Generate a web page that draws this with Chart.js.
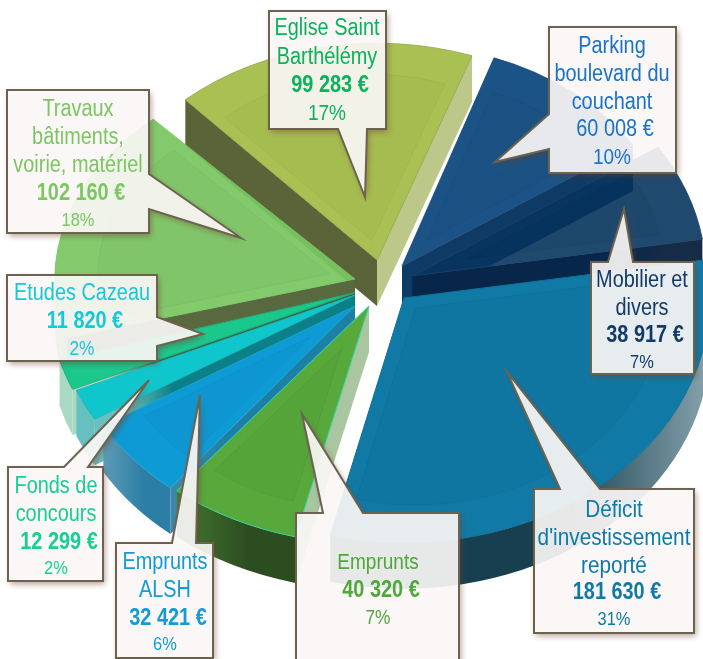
<!DOCTYPE html>
<html>
<head>
<meta charset="utf-8">
<style>
html, body { margin: 0; padding: 0; background: #fff; }
#wrap { width: 703px; height: 659px; overflow: hidden; }
</style>
<script src="https://cdn.jsdelivr.net/npm/chart.js@4"></script>
</head>
<body>
<div id="wrap"><canvas id="chart" width="703" height="659"></canvas></div>
<script>
const categories = [
    "Déficit\nd'investissement\nreporté", "Emprunts", "Emprunts\nALSH", "Fonds de\nconcours",
    "Etudes Cazeau", "Travaux\nbâtiments,\nvoirie, matériel", "Eglise Saint\nBarthélémy",
    "Parking\nboulevard du\ncouchant", "Mobilier et\ndivers"
];
const values = [181630, 40320, 32421, 12299, 11820, 102160, 99283, 60008, 38917];
const percents = [31, 7, 6, 2, 2, 18, 17, 10, 7];

// where each exploded slice sits on the page and how big it is
const DEPTH = 46, BASE_RADIUS = 300;
const apexX = [404, 369, 355, 355, 354, 355, 377, 402, 412];
const apexY = [298, 306, 306, 295, 293, 279, 260, 266, 276];
const radii = [306, 305, 293, 303, 306, 300, 285, 276, 294];
const tilts = [0.8, 0.78, 0.8, 0.8, 0.8, 0.72, 0.76, 0.8, 0.8];

const faceColors = ["#1079a6", "#58a83c", "#0e9ad4", "#0fc6cc", "#1bc88c", "rgba(122,198,98,0.93)", "#a9c152", "#1b5386", "rgba(7,53,95,0.9)"];
const edgeColors = ["#0f7396", "#2fd6a0", "#1fa6c8", "#1fb8bc", "#2aa878", "#78c460", "#8fa548", "#1a4a78", "#1a4268"];
const labelColors = ["#0e7aa8", "#4ea83a", "#129bd8", "#17cf94", "#16c8d8", "#7cc664", "#0bb25c", "#1a72c8", "#133a68"];
// side walls: cut at the start angle, cut at the end angle (outer, inner colour), outer rim stops
const startWalls = [null, ["#a9c6a0", "#a9c6a0"], ["#3d86a8", "#1e7fa6"], ["#66c0bf", "#0b8088"], ["#a9d8c3", "#2f6b4c"], ["#59693f", "#59693f"], ["#5b6339", "#5b6339"], null, null];
const endWalls = [null, null, null, null, null, null, ["#bcc78a", "#bcc78a"], ["#0e3a66", "#0e3a66"], ["#162c46", "#08264a"]];
const rimStops = [
    ["#173f50", "#173f50", "#87a3ad"], ["#447a30", "#2b4d1f", "#2b4d1f"], ["#5d9bb5", "#2d7ea6", "#2d7ea6"],
    ["#66c0bf", "#66c0bf", "#66c0bf"], ["#a9d8c3", "#a9d8c3", "#a9d8c3"], ["#7bb463", "#7bb463", "#7bb463"],
    ["#5b6339", "#5b6339", "#5b6339"], ["#0e3a66", "#0e3a66", "#0e3a66"], ["#14304f", "#14304f", "#14304f"]
];

const callouts = [
    { box: [534, 489, 160, 144], side: "top", tail: [[560, 489], [507, 372], [600, 489]], cx: 614, ys: [510, 538, 566, 593, 620], name: 24, amount: 23, pct: 19, bold: true },
    { box: [296, 513, 163, 170], side: "top", tail: [[323, 513], [302, 414], [363, 513]], cx: 378, ys: [563, 591, 618], name: 22, amount: 23, pct: 20, bold: true },
    { box: [116, 543, 97, 115], side: "top", tail: [[172, 543], [200, 395], [196, 543]], cx: 165, ys: [563, 591, 619, 645], name: 23, amount: 23, pct: 19, bold: true },
    { box: [8, 467, 95, 114], side: "top", tail: [[64, 467], [149, 380], [88, 467]], cx: 56, ys: [487, 515, 543, 569], name: 23, amount: 23, pct: 19, bold: true },
    { box: [7, 275, 150, 86], side: "right", tail: [[157, 317], [203, 334], [157, 346]], cx: 82, ys: [294, 322, 349], name: 23, amount: 23, pct: 20, bold: true },
    { box: [7, 90, 142, 143], side: "right", tail: [[149, 174], [241, 238], [149, 209]], cx: 78, ys: [110, 138, 166, 194, 221], name: 23, amount: 23, pct: 19, bold: true },
    { box: [269, 11, 117, 118], side: "bottom", tail: [[367, 129], [365, 197], [338, 129]], cx: 327, ys: [29, 58, 86, 114], name: 23, amount: 23, pct: 22, bold: true },
    { box: [549, 27, 127, 146], side: "left", tail: [[549, 149], [495, 162], [549, 114]], cx: 612, ys: [47, 75, 103, 130, 158], name: 23, amount: 23, pct: 22, bold: false },
    { box: [591, 262, 103, 112], side: "top", tail: [[608, 262], [624, 209], [633, 262]], cx: 642, ys: [281, 309, 336, 363], name: 23, amount: 23, pct: 19, bold: true }
];

const NARROW = 0.865;

function formatEuro(v) {
    return String(v).replace(/\B(?=(\d{3})+$)/g, " ") + " €";
}

function drawWallQuad(ctx, i, angle, colors) {
    const r = radii[i];
    const x = apexX[i] + Math.cos(angle) * r;
    const y = apexY[i] + Math.sin(angle) * r * tilts[i];
    const g = ctx.createLinearGradient(x, 0, apexX[i], 0);
    g.addColorStop(0, colors[0]);
    g.addColorStop(0.12, colors[0]);
    g.addColorStop(0.3, colors[1]);
    g.addColorStop(1, colors[1]);
    ctx.fillStyle = g;
    ctx.beginPath();
    ctx.moveTo(apexX[i], apexY[i]);
    ctx.lineTo(x, y);
    ctx.lineTo(x, y + DEPTH);
    ctx.lineTo(apexX[i], apexY[i] + DEPTH);
    ctx.closePath();
    ctx.fill();
}

function drawRim(ctx, i, start, end) {
    const TAU = Math.PI * 2;
    const s = ((start % TAU) + TAU) % TAU;
    const e = s + (end - start);
    [[0, Math.PI], [TAU, TAU + Math.PI]].forEach(function(win) {
        const lo = Math.max(s, win[0]);
        const hi = Math.min(e, win[1]);
        if (hi <= lo) return;
        const r = radii[i];
        const ry = r * tilts[i];
        const x1 = apexX[i] + Math.cos(lo) * r;
        const x2 = apexX[i] + Math.cos(hi) * r;
        const g = ctx.createLinearGradient(Math.min(x1, x2), 0, Math.max(x1, x2), 0);
        g.addColorStop(0, rimStops[i][0]);
        g.addColorStop(0.6, rimStops[i][1]);
        g.addColorStop(1, rimStops[i][2]);
        ctx.fillStyle = g;
        ctx.beginPath();
        ctx.ellipse(apexX[i], apexY[i], r, ry, 0, lo, hi);
        ctx.ellipse(apexX[i], apexY[i] + DEPTH, r, ry, 0, hi, lo, true);
        ctx.closePath();
        ctx.fill();
    });
}

function drawFace(ctx, arc, i) {
    const s = radii[i] / BASE_RADIUS;
    ctx.save();
    ctx.translate(apexX[i], apexY[i]);
    ctx.scale(s, s * tilts[i]);
    ctx.translate(-arc.x, -arc.y);
    arc.draw(ctx);
    // inner bevel of the slice
    const half = (arc.endAngle - arc.startAngle) / 2;
    if (half > 0.15) {
        const mid = arc.startAngle + half;
        const d = Math.min(14 / Math.sin(half), 60);
        const cx = arc.x + Math.cos(mid) * d;
        const cy = arc.y + Math.sin(mid) * d;
        ctx.fillStyle = "rgba(0,0,0,0.025)";
        ctx.strokeStyle = "rgba(0,0,0,0.05)";
        ctx.lineWidth = 1;
        ctx.beginPath();
        ctx.moveTo(cx, cy);
        ctx.arc(cx, cy, arc.outerRadius - 42 - d, arc.startAngle, arc.endAngle);
        ctx.closePath();
        ctx.fill();
        ctx.stroke();
    }
    ctx.restore();
}

function calloutPath(ctx, c) {
    const x = c.box[0], y = c.box[1], w = c.box[2], h = c.box[3];
    const corners = [[x, y], [x + w, y], [x + w, y + h], [x, y + h]];
    const after = { top: 0, right: 1, bottom: 2, left: 3 }[c.side];
    ctx.moveTo(corners[0][0], corners[0][1]);
    for (let i = 0; i < 4; i++) {
        if (i > 0) ctx.lineTo(corners[i][0], corners[i][1]);
        if (i === after) c.tail.forEach(function(p) { ctx.lineTo(p[0], p[1]); });
    }
    ctx.closePath();
}

function drawLine(ctx, text, x, y, size, bold, color) {
    ctx.save();
    ctx.translate(x, y);
    ctx.scale(NARROW, 1);
    ctx.font = (bold ? "bold " : "") + size + "px 'Liberation Sans', Arial, sans-serif";
    ctx.fillStyle = color;
    ctx.textAlign = "center";
    ctx.textBaseline = "middle";
    ctx.fillText(text, 0, 0);
    ctx.restore();
}

const piePainter = {
    id: "piePainter",
    beforeDatasetDraw: function(chart) {
        const ctx = chart.ctx;
        const arcs = chart.getDatasetMeta(0).data;
        const order = arcs.map(function(a, i) { return i; }).sort(function(a, b) {
            return apexY[a] + Math.sin((arcs[a].startAngle + arcs[a].endAngle) / 2) * radii[a]
                - apexY[b] - Math.sin((arcs[b].startAngle + arcs[b].endAngle) / 2) * radii[b];
        });
        order.forEach(function(i) {
            if (endWalls[i]) drawWallQuad(ctx, i, arcs[i].endAngle, endWalls[i]);
            if (startWalls[i]) drawWallQuad(ctx, i, arcs[i].startAngle, startWalls[i]);
            drawRim(ctx, i, arcs[i].startAngle, arcs[i].endAngle);
        });
        arcs.forEach(function(arc, i) { drawFace(ctx, arc, i); });
        return false;
    },
    afterDatasetsDraw: function(chart) {
        const ctx = chart.ctx;
        callouts.forEach(function(c, i) {
            // shadow only outside the box, the fill is see-through
            ctx.save();
            ctx.beginPath();
            ctx.rect(0, 0, chart.width, chart.height);
            calloutPath(ctx, c);
            ctx.clip("evenodd");
            ctx.shadowColor = "rgba(110,60,40,0.5)";
            ctx.shadowBlur = 6;
            ctx.shadowOffsetX = 2;
            ctx.shadowOffsetY = 3;
            ctx.beginPath();
            calloutPath(ctx, c);
            ctx.fillStyle = "#000";
            ctx.fill();
            ctx.restore();

            ctx.beginPath();
            calloutPath(ctx, c);
            ctx.fillStyle = "rgba(250,246,245,0.92)";
            ctx.fill();
            ctx.strokeStyle = "#6b6350";
            ctx.lineWidth = 2;
            ctx.lineJoin = "miter";
            ctx.stroke();

            const names = categories[i].split("\n");
            names.forEach(function(t, k) {
                drawLine(ctx, t, c.cx, c.ys[k], c.name, false, labelColors[i]);
            });
            drawLine(ctx, formatEuro(values[i]), c.cx + 3, c.ys[names.length], c.amount, c.bold, labelColors[i]);
            drawLine(ctx, percents[i] + "%", c.cx, c.ys[names.length + 1], c.pct, false, labelColors[i]);
        });
    }
};

new Chart(document.getElementById("chart"), {
    type: "pie",
    data: {
        labels: categories,
        datasets: [{
            data: values,
            backgroundColor: faceColors,
            borderColor: edgeColors,
            borderWidth: 1,
            radius: BASE_RADIUS,
            clip: false
        }]
    },
    options: {
        responsive: false,
        animation: false,
        rotation: 81,
        layout: { padding: 0 },
        plugins: { legend: { display: false }, tooltip: { enabled: false } }
    },
    plugins: [piePainter]
});
</script>
</body>
</html>
